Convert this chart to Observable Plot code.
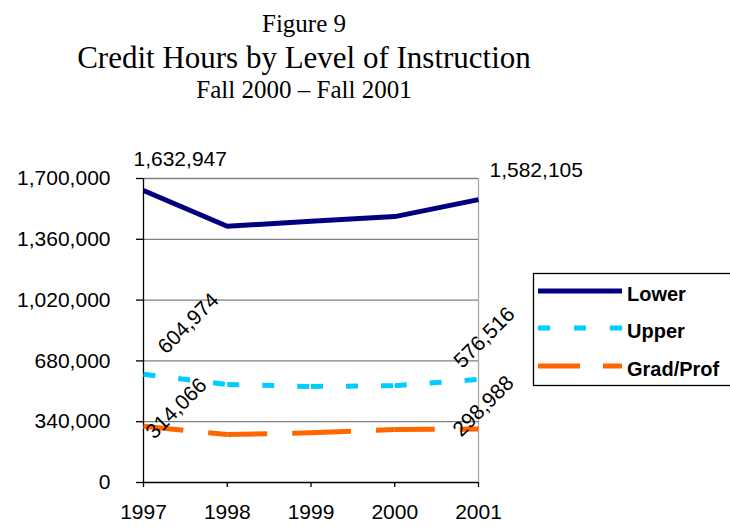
<!DOCTYPE html>
<html>
<head>
<meta charset="utf-8">
<script src="https://cdn.jsdelivr.net/npm/d3@7"></script>
<script src="https://cdn.jsdelivr.net/npm/@observablehq/plot@0.6"></script>
<style>
  html, body { margin: 0; padding: 0; background: #fff; }
  #wrap { position: relative; width: 730px; height: 527px; overflow: hidden; font-family: "Liberation Sans", Arial, sans-serif; }
  .ttl { position: absolute; left: 0; width: 608px; text-align: center; font-family: "Liberation Serif", "Times New Roman", serif; color: #000; white-space: nowrap; }
  #chart { position: absolute; left: 0; top: 0; }
  #legend { position: absolute; left: 0; top: 0; pointer-events: none; }
</style>
</head>
<body>
<div id="wrap">
  <div id="chart"></div>
  <div class="ttl" style="top:11px;font-size:25px;line-height:25px;">Figure 9</div>
  <div class="ttl" style="top:42px;font-size:31px;line-height:31px;">Credit Hours by Level of Instruction</div>
  <div class="ttl" style="top:77px;font-size:25px;line-height:25px;">Fall 2000 – Fall 2001</div>
</div>
<script>
// ---- data ----
const years = [1997, 1998, 1999, 2000, 2001];
const seriesNames = ["Lower", "Upper", "Grad/Prof"];
const lower = [1632947, 1433000, 1461000, 1487000, 1582105];
const upper = [604974, 548000, 537000, 541000, 576516];
const grad = [314066, 268000, 278000, 296000, 298988];
const yTicks = [0, 340000, 680000, 1020000, 1360000, 1700000];

const fmt = d3.format(",");

// segment table (Excel restarts dash pattern at every data point)
function segments(values) {
  const out = [];
  for (let i = 0; i < years.length - 1; i++) {
    out.push({year: years[i], value: values[i], seg: i});
    out.push({year: years[i + 1], value: values[i + 1], seg: i});
  }
  return out;
}
function pts(values) {
  return years.map((year, i) => ({year, value: values[i]}));
}
function endLabel(values, idx, opts) {
  return Plot.text([{year: years[idx], value: values[idx]}], {
    x: "year", y: "value", text: d => fmt(d.value),
    fontSize: 21, fill: "black", lineAnchor: "middle", ...opts
  });
}

const chart = Plot.plot({
  width: 730, height: 527,
  marginTop: 178, marginBottom: 45, marginLeft: 143, marginRight: 252,
  style: {fontFamily: "'Liberation Sans', Arial, sans-serif", fontSize: "21px", color: "black", background: "transparent", overflow: "visible"},
  x: {domain: [years[0], years[years.length - 1]]},
  y: {domain: [yTicks[0], yTicks[yTicks.length - 1]]},
  marks: [
    Plot.ruleY(yTicks.slice(1), {stroke: "#808080", strokeWidth: 1.3}),
    Plot.ruleX([years[years.length - 1]], {stroke: "#a8a8a8", strokeWidth: 1.3}),
    Plot.ruleX([years[0]], {stroke: "black", strokeWidth: 1.3}),
    Plot.ruleY([0], {stroke: "black", strokeWidth: 1.3}),
    Plot.axisY(yTicks, {tickSize: 7, tickPadding: 26, tickFormat: fmt, fontSize: 21, label: null, strokeWidth: 1.3}),
    Plot.axisX(years, {tickSize: 5, tickPadding: 17, tickFormat: d => String(d), fontSize: 21, label: null, strokeWidth: 1.3}),
    Plot.line(pts(lower), {x: "year", y: "value", stroke: "#000080", strokeWidth: 5, strokeLinejoin: "miter", strokeLinecap: "butt"}),
    Plot.line(segments(upper), {x: "year", y: "value", z: "seg", stroke: "#00CCFF", strokeWidth: 5, strokeDasharray: "12,23", strokeLinecap: "butt"}),
    Plot.line(segments(grad), {x: "year", y: "value", z: "seg", stroke: "#FF6600", strokeWidth: 5, strokeDasharray: "40,25", strokeLinecap: "butt"}),
    endLabel(lower, 0, {textAnchor: "start", dx: -10, dy: -31}),
    endLabel(lower, 4, {textAnchor: "start", dx: 11, dy: -29}),
    endLabel(upper, 0, {textAnchor: "start", rotate: -45, dx: 18, dy: -24}),
    endLabel(upper, 4, {textAnchor: "start", rotate: -45, dx: -21, dy: -15}),
    endLabel(grad, 0, {textAnchor: "start", rotate: -45, dx: 6, dy: 9}),
    endLabel(grad, 4, {textAnchor: "start", rotate: -45, dx: -22, dy: 4})
  ]
});
document.getElementById("chart").appendChild(chart);

// ---- legend ----
const legendStyles = [
  {stroke: "#000080", dash: null, y: 291},
  {stroke: "#00CCFF", dash: "12,24", y: 328},
  {stroke: "#FF6600", dash: "42,23", y: 366}
];
const lg = d3.select("#wrap").append("svg").attr("id", "legend").attr("width", 730).attr("height", 527);
lg.append("rect").attr("x", 533.5).attr("y", 273.5).attr("width", 230).attr("height", 112)
  .attr("fill", "white").attr("stroke", "black").attr("stroke-width", 1.3);
seriesNames.forEach((name, i) => {
  const s = legendStyles[i];
  lg.append("line").attr("x1", 538).attr("x2", 622).attr("y1", s.y).attr("y2", s.y)
    .attr("stroke", s.stroke).attr("stroke-width", 5).attr("stroke-dasharray", s.dash);
  lg.append("text").attr("x", 627).attr("y", s.y + 10).text(name)
    .attr("font-family", "'Liberation Sans', Arial, sans-serif").attr("font-weight", "bold").attr("font-size", 20);
});
</script>
</body>
</html>
